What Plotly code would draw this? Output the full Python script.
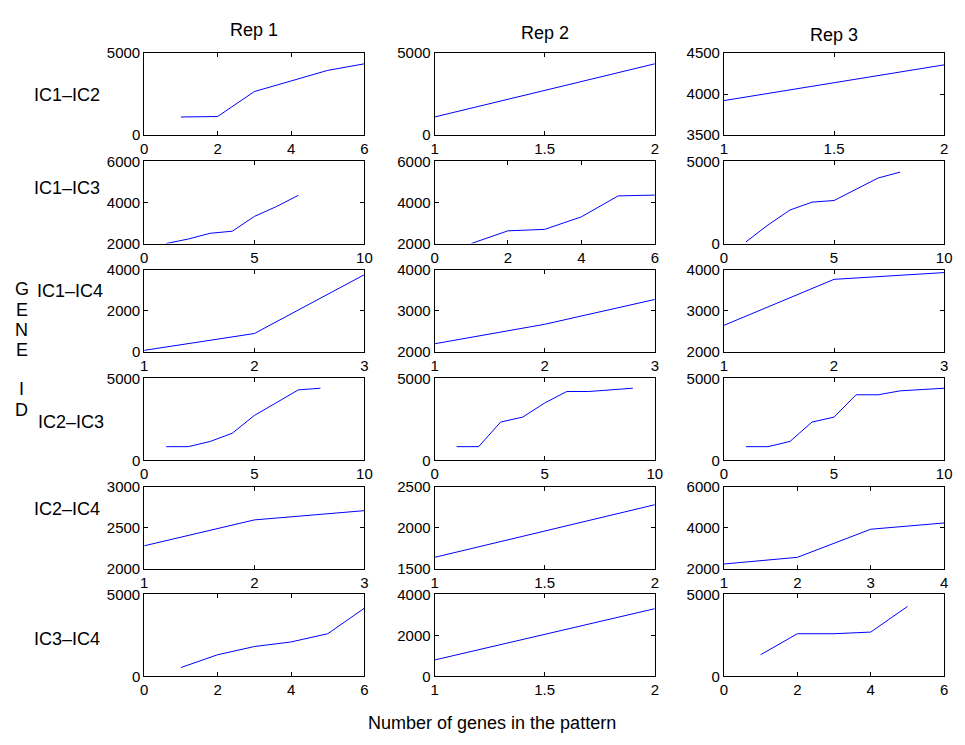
import plotly.graph_objects as go

# ---------------- data ----------------
reps = ["Rep 1", "Rep 2", "Rep 3"]
pairs = ["IC1\u2013IC2", "IC1\u2013IC3", "IC1\u2013IC4", "IC2\u2013IC3", "IC2\u2013IC4", "IC3\u2013IC4"]

# IC1-IC2
ic12_r1_x = [1, 2, 3, 4, 5, 6]
ic12_r1_y = [1100, 1130, 2650, 3300, 3940, 4340]
ic12_r2_x = [1, 2]
ic12_r2_y = [1100, 4340]
ic12_r3_x = [1, 2]
ic12_r3_y = [3920, 4355]

# IC1-IC3
ic13_r1_x = [1, 2, 3, 4, 5, 6, 7]
ic13_r1_y = [2000, 2220, 2500, 2600, 3320, 3800, 4350]
ic13_r2_x = [1, 2, 3, 4, 5, 6]
ic13_r2_y = [2000, 2620, 2690, 3300, 4320, 4360]
ic13_r3_x = [1, 2, 3, 4, 5, 6, 7, 8]
ic13_r3_y = [100, 1130, 2040, 2520, 2620, 3330, 3990, 4350]

# IC1-IC4
ic14_r1_x = [1, 2, 3]
ic14_r1_y = [80, 900, 3770]
ic14_r2_x = [1, 2, 3]
ic14_r2_y = [2200, 2675, 3280]
ic14_r3_x = [1, 2, 3]
ic14_r3_y = [2650, 3770, 3935]

# IC2-IC3
ic23_r1_x = [1, 2, 3, 4, 5, 6, 7, 8]
ic23_r1_y = [840, 840, 1160, 1660, 2740, 3520, 4300, 4400]
ic23_r2_x = [1, 2, 3, 4, 5, 6, 7, 8, 9]
ic23_r2_y = [840, 840, 2340, 2640, 3500, 4200, 4200, 4300, 4400]
ic23_r3_x = [1, 2, 3, 4, 5, 6, 7, 8, 9, 10]
ic23_r3_y = [840, 840, 1160, 2340, 2640, 4000, 4000, 4240, 4320, 4400]

# IC2-IC4
ic24_r1_x = [1, 2, 3]
ic24_r1_y = [2282, 2597, 2710]
ic24_r2_x = [1, 2]
ic24_r2_y = [1641, 2282]
ic24_r3_x = [1, 2, 3, 4]
ic24_r3_y = [2240, 2565, 3935, 4240]

# IC3-IC4
ic34_r1_x = [1, 2, 3, 4, 5, 6]
ic34_r1_y = [540, 1320, 1820, 2100, 2600, 4160]
ic34_r2_x = [1, 2]
ic34_r2_y = [800, 3300]
ic34_r3_x = [1, 2, 3, 4, 5]
ic34_r3_y = [1320, 2600, 2600, 2700, 4260]

series = [
    [(ic12_r1_x, ic12_r1_y), (ic12_r2_x, ic12_r2_y), (ic12_r3_x, ic12_r3_y)],
    [(ic13_r1_x, ic13_r1_y), (ic13_r2_x, ic13_r2_y), (ic13_r3_x, ic13_r3_y)],
    [(ic14_r1_x, ic14_r1_y), (ic14_r2_x, ic14_r2_y), (ic14_r3_x, ic14_r3_y)],
    [(ic23_r1_x, ic23_r1_y), (ic23_r2_x, ic23_r2_y), (ic23_r3_x, ic23_r3_y)],
    [(ic24_r1_x, ic24_r1_y), (ic24_r2_x, ic24_r2_y), (ic24_r3_x, ic24_r3_y)],
    [(ic34_r1_x, ic34_r1_y), (ic34_r2_x, ic34_r2_y), (ic34_r3_x, ic34_r3_y)],
]

# axis ticks (tick values; range = first..last)
x_ticks = [
    [[0, 2, 4, 6], [1, 1.5, 2], [1, 1.5, 2]],
    [[0, 5, 10], [0, 2, 4, 6], [0, 5, 10]],
    [[1, 2, 3], [1, 2, 3], [1, 2, 3]],
    [[0, 5, 10], [0, 5, 10], [0, 5, 10]],
    [[1, 2, 3], [1, 1.5, 2], [1, 2, 3, 4]],
    [[0, 2, 4, 6], [1, 1.5, 2], [0, 2, 4, 6]],
]
y_ticks = [
    [[0, 5000], [0, 5000], [3500, 4000, 4500]],
    [[2000, 4000, 6000], [2000, 4000, 6000], [0, 5000]],
    [[0, 2000, 4000], [2000, 3000, 4000], [2000, 3000, 4000]],
    [[0, 5000], [0, 5000], [0, 5000]],
    [[2000, 2500, 3000], [1500, 2000, 2500], [2000, 4000, 6000]],
    [[0, 5000], [0, 2000, 4000], [0, 5000]],
]

y_label_letters = ["G", "E", "N", "E", "I", "D"]
x_label = "Number of genes in the pattern"

# ---------------- layout ----------------
W, H = 965, 745
col_left = [142, 436, 729]
col_w = 223
row_top = [45, 156, 267, 378, 489, 599]
row_h = 84
FONT = "Liberation Sans, Arial, Helvetica, sans-serif"
TICK_SIZE = 15
LABEL_SIZE = 18

fig = go.Figure()
layout = dict(
    width=W, height=H, margin=dict(l=0, r=0, t=0, b=0),
    paper_bgcolor="white", plot_bgcolor="white",
    showlegend=False, font=dict(family=FONT, size=TICK_SIZE, color="black"),
)


def fmt(v):
    return str(int(v)) if float(v).is_integer() else str(v)


k = 0
for r in range(6):
    for c in range(3):
        k += 1
        sfx = "" if k == 1 else str(k)
        xs, ys = series[r][c]
        fig.add_trace(go.Scatter(x=xs, y=ys, mode="lines",
                                 line=dict(color="#0000ff", width=1),
                                 xaxis="x" + sfx, yaxis="y" + sfx,
                                 hoverinfo="skip"))
        xt = x_ticks[r][c]
        yt = y_ticks[r][c]
        common = dict(showgrid=False, zeroline=False, showline=True,
                      linecolor="black", linewidth=1, mirror="ticks",
                      ticks="inside", ticklen=4, tickwidth=1, tickcolor="black",
                      tickfont=dict(family=FONT, size=TICK_SIZE, color="black"))
        layout["xaxis" + sfx] = dict(
            common, domain=[col_left[c] / W, (col_left[c] + col_w) / W],
            range=[xt[0], xt[-1]], tickvals=xt, ticktext=[fmt(v) for v in xt],
            anchor="y" + sfx)
        layout["yaxis" + sfx] = dict(
            common, domain=[1 - (row_top[r] + row_h) / H, 1 - row_top[r] / H],
            range=[yt[0], yt[-1]], tickvals=yt, ticktext=[fmt(v) for v in yt],
            anchor="x" + sfx)


def ann(text, px, py, xanchor="center", size=LABEL_SIZE):
    return dict(text=text, x=px / W, y=1 - py / H, xref="paper", yref="paper",
                showarrow=False, xanchor=xanchor, yanchor="middle",
                borderpad=0, font=dict(family=FONT, size=size, color="black"))


annotations = []
title_y = [22, 25, 27]
for c in range(3):
    annotations.append(ann(reps[c], col_left[c] + col_w / 2, title_y[c]))
label_pos = [(29, 88), (29, 183), (32, 289), (33, 423), (29, 512), (29, 645)]
for r in range(6):
    lx, ly = label_pos[r]
    annotations.append(ann(pairs[r], lx, ly, xanchor="left"))
letter_y = [287, 308, 329, 349, 389, 410]
for ch, ly in zip(y_label_letters, letter_y):
    annotations.append(ann(ch, 18, ly))
annotations.append(ann(x_label, 494, 731))
layout["annotations"] = annotations
fig.update_layout(**layout)
fig.write_html("out.html")
